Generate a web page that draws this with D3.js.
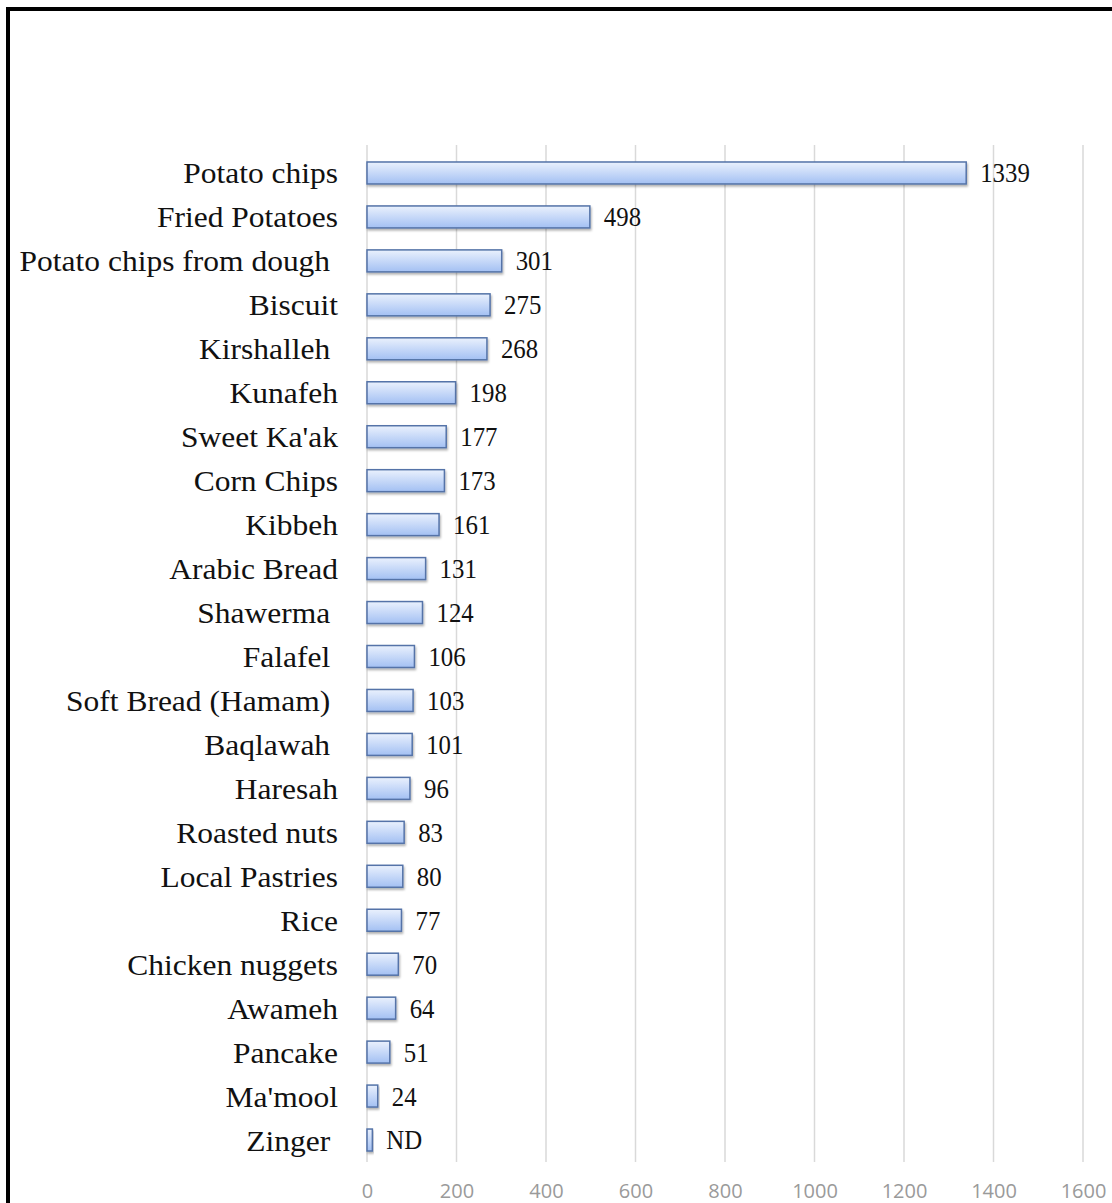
<!DOCTYPE html>
<html><head><meta charset="utf-8">
<script src="https://cdn.jsdelivr.net/npm/d3@7"></script>
<style>body{margin:0;background:#fff}svg{display:block}</style>
</head><body>
<script>
const categories = ["Potato chips","Fried Potatoes","Potato chips from dough ","Biscuit","Kirshalleh ","Kunafeh","Sweet Ka'ak","Corn Chips","Kibbeh","Arabic Bread","Shawerma ","Falafel ","Soft Bread (Hamam) ","Baqlawah ","Haresah","Roasted nuts","Local Pastries","Rice","Chicken nuggets","Awameh","Pancake","Ma'mool","Zinger "];
const values = [1339,498,301,275,268,198,177,173,161,131,124,106,103,101,96,83,80,77,70,64,51,24,12];
const valueLabels = ["1339","498","301","275","268","198","177","173","161","131","124","106","103","101","96","83","80","77","70","64","51","24","ND"];
const tickValues = [0,200,400,600,800,1000,1200,1400,1600];

const W=1112,H=1203;
const svg=d3.select("body").append("svg").attr("width",W).attr("height",H);
const defs=svg.append("defs");
const g=defs.append("linearGradient").attr("id","bg").attr("x1",0).attr("y1",0).attr("x2",0).attr("y2",1);
g.append("stop").attr("offset","0%").attr("stop-color","#eaf1fd");
g.append("stop").attr("offset","100%").attr("stop-color","#a3c0f3");
const f=defs.append("filter").attr("id","sh").attr("x","-5%").attr("y","-30%").attr("width","120%").attr("height","180%");
f.append("feDropShadow").attr("dx",1).attr("dy",2).attr("stdDeviation",1.2).attr("flood-color","#000").attr("flood-opacity",0.3);

svg.append("rect").attr("x",8).attr("y",9).attr("width",W).attr("height",H).attr("fill","none").attr("stroke","#000").attr("stroke-width",4);

const x=d3.scaleLinear().domain([0,1600]).range([367,1083]);
const y=d3.scaleBand().domain(categories).range([151,1162]).paddingInner(0.5).paddingOuter(0.25);

svg.append("g").selectAll("line").data(tickValues).join("line")
 .attr("x1",d=>x(d)).attr("x2",d=>x(d)).attr("y1",145).attr("y2",1162)
 .attr("stroke","#d9d9d9").attr("stroke-width",1.5);

const axis=d3.axisBottom(x).tickValues(tickValues).tickFormat(d3.format("d")).tickSize(0).tickPadding(0);
const ax=svg.append("g").attr("transform","translate(0,1191)").call(axis);
ax.select(".domain").remove();
ax.selectAll("text").attr("font-family","'Open Sans',sans-serif").attr("font-size",20).attr("fill","#9a9a9a").attr("dy","0.35em");

svg.append("g").selectAll("rect").data(values).join("rect")
 .attr("x",x(0)).attr("y",(d,i)=>y(categories[i]))
 .attr("width",d=>x(d)-x(0)).attr("height",y.bandwidth())
 .attr("fill","url(#bg)").attr("stroke","#5473a8").attr("stroke-width",1.5).attr("filter","url(#sh)");

svg.append("g").selectAll("text").data(categories).join("text")
 .attr("transform",d=>`translate(338,${y(d)+y.bandwidth()/2}) scale(1.05,1)`).attr("dy","0.35em")
 .attr("text-anchor","end").attr("font-family","'Liberation Serif','Times New Roman',serif")
 .attr("font-size",30).attr("fill","#111").style("white-space","pre").text(d=>d);

svg.append("g").selectAll("text").data(values).join("text")
 .attr("transform",(d,i)=>`translate(${x(d)+14},${y(categories[i])+y.bandwidth()/2}) scale(0.92,1)`).attr("dy","0.35em")
 .attr("font-family","'Liberation Serif','Times New Roman',serif").attr("font-size",27).attr("fill","#111")
 .text((d,i)=>valueLabels[i]);
</script>
</body></html>
